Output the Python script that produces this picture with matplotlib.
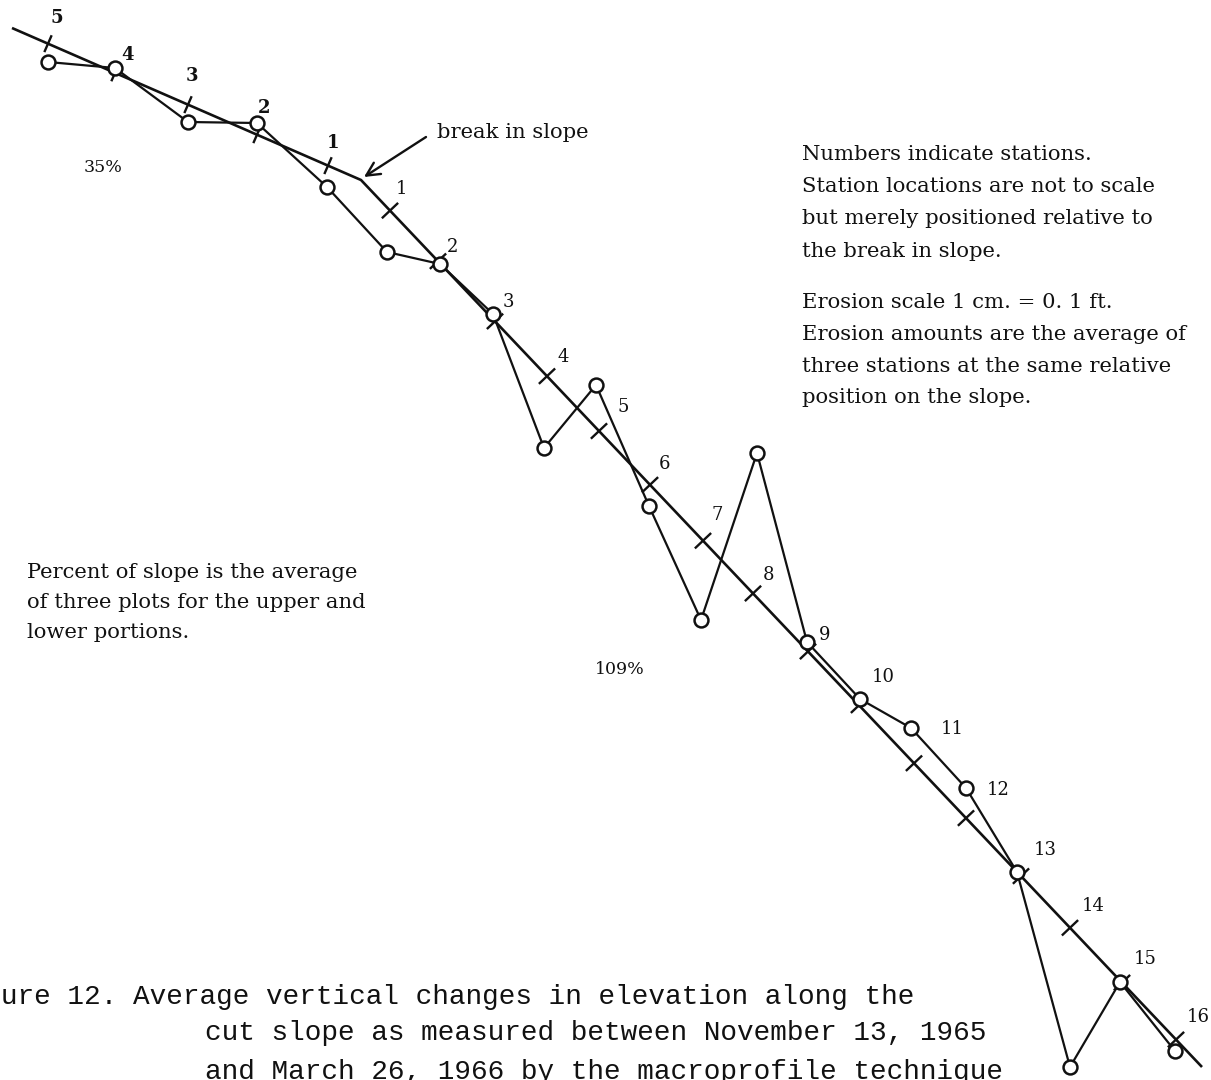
import numpy as np
import matplotlib
matplotlib.use("Agg")
import matplotlib.pyplot as plt

# ---------------- data (pixel-like diagram units) ----------------
# profile of the cut slope: start, break in slope, end
profile_x = [12, 361, 1202]
profile_y = [28, 180, 1067]

# upper portion stations (numbered 5..1 from the top)
upper_labels = ["5", "4", "3", "2", "1"]
upper_station_x = [48, 115, 188, 257, 328]
upper_circle_x = [48, 115, 188, 257, 327]
upper_circle_y = [62, 68, 122, 123, 187]
upper_label_x = [57, 128, 192, 264, 333]
upper_label_y = [18, 55, 76, 108, 143]

# lower portion stations (1..16)
lower_labels = [str(i) for i in range(1, 17)]
lower_station_x = [390, 438, 495, 547, 599, 650, 703, 753, 808, 859, 914, 966, 1021, 1070, 1122, 1176]
lower_circle_x = [387, 440, 493, 544, 596, 649, 701, 757, 807, 860, 911, 966, 1017, 1070, 1120, 1175]
lower_circle_y = [252, 264, 314, 448, 385, 506, 620, 453, 642, 699, 728, 788, 872, 1067, 982, 1051]
lower_label_x = [402, 453, 508, 563, 623, 665, 717, 768, 825, 883, 952, 998, 1045, 1093, 1145, 1198]
lower_label_y = [189, 247, 302, 357, 407, 464, 515, 575, 635, 677, 729, 790, 850, 906, 959, 1017]

slope_pct = ["35%", "109%"]

notes_right = [
    "Numbers indicate stations.",
    "Station locations are not to scale",
    "but merely positioned relative to",
    "the break in slope.",
    "Erosion scale 1 cm. = 0. 1 ft.",
    "Erosion amounts are the average of",
    "three stations at the same relative",
    "position on the slope.",
]
notes_left = [
    "Percent of slope is the average",
    "of three plots for the upper and",
    "lower portions.",
]
caption_lines = [
    "Average vertical changes in elevation along the",
    "cut slope as measured between November 13, 1965",
    "and March 26, 1966 by the macroprofile technique",
]

# ---------------- figure ----------------
W, H = 1211, 1080
fig = plt.figure(figsize=(W / 100, H / 100), dpi=100)
ax = fig.add_axes([0, 0, 1, 1])
ax.set_xlim(0, W)
ax.set_ylim(H, 0)
ax.axis("off")

K = "#111111"
serif = ["DejaVu Serif"]
NOTE = 15.2

# profile
ax.plot(profile_x, profile_y, color=K, lw=1.9, solid_capstyle="butt", zorder=2)


def profile_at(x):
    return np.interp(x, profile_x, profile_y)


def draw_ticks(xs, seg, half):
    (x0, y0), (x1, y1) = seg
    d = np.array([x1 - x0, y1 - y0], float)
    d /= np.linalg.norm(d)
    n = np.array([d[1], -d[0]])
    for x in xs:
        p = np.array([x, profile_at(x)])
        a, b = p - n * half, p + n * half
        ax.plot([a[0], b[0]], [a[1], b[1]], color=K, lw=1.7, zorder=2)


draw_ticks(upper_station_x, ((profile_x[0], profile_y[0]), (profile_x[1], profile_y[1])), 8)
draw_ticks(lower_station_x, ((profile_x[1], profile_y[1]), (profile_x[2], profile_y[2])), 10)

# measured (eroded) profile with circles
cx = upper_circle_x + lower_circle_x
cy = upper_circle_y + lower_circle_y
ax.plot(cx, cy, color=K, lw=1.6, zorder=3)
ax.plot(cx, cy, ls="none", marker="o", ms=10, mfc="white", mec=K, mew=1.8, zorder=4)

# station labels
for t, x, y in zip(upper_labels, upper_label_x, upper_label_y):
    ax.text(x, y, t, ha="center", va="center", fontsize=13, family=serif, fontweight="bold", color=K)
for t, x, y in zip(lower_labels, lower_label_x, lower_label_y):
    ax.text(x, y, t, ha="center", va="center", fontsize=13, family=serif, color=K)

# slope percentages
ax.text(103, 168, slope_pct[0], ha="center", va="center", fontsize=12.5, family=serif, color=K)
ax.text(620, 670, slope_pct[1], ha="center", va="center", fontsize=12.5, family=serif, color=K)

# break in slope annotation
ax.text(437, 132, "break in slope", ha="left", va="center", fontsize=NOTE, family=serif, color=K)
ax.annotate("", xy=(364, 177), xytext=(426, 137),
            arrowprops=dict(arrowstyle="->", color=K, lw=1.7, shrinkA=0, shrinkB=0,
                            mutation_scale=24))

# notes
for i, t in enumerate(notes_right[:4]):
    ax.text(802, 154 + i * 32.5, t, ha="left", va="center", fontsize=NOTE, family=serif, color=K)
for i, t in enumerate(notes_right[4:]):
    ax.text(802, 303 + i * 31.5, t, ha="left", va="center", fontsize=NOTE, family=serif, color=K)
for i, t in enumerate(notes_left):
    ax.text(27, 572 + i * 30, t, ha="left", va="center", fontsize=NOTE, family=serif, color=K)

# caption
mono = ["Liberation Mono"]
CAP = 20
ax.text(117, 1004, "Figure 12.", ha="right", va="baseline", fontsize=CAP, family=mono, color=K)
ax.text(133, 1004, caption_lines[0], ha="left", va="baseline", fontsize=CAP, family=mono, color=K)
ax.text(205, 1040, caption_lines[1], ha="left", va="baseline", fontsize=CAP, family=mono, color=K)
ax.text(205, 1079, caption_lines[2], ha="left", va="baseline", fontsize=CAP, family=mono, color=K)

fig.savefig("out.png", dpi=100, facecolor="white")
